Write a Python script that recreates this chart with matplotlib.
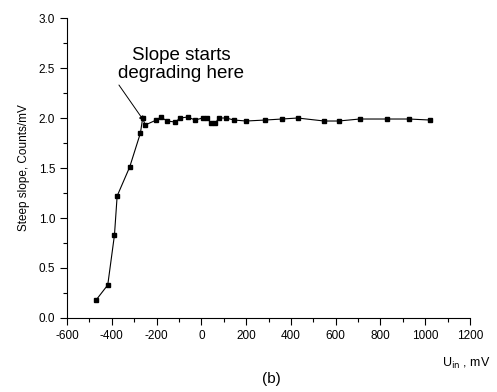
import matplotlib.pyplot as plt
from matplotlib.ticker import MultipleLocator

plt.rcParams["font.family"] = ["Liberation Sans", "DejaVu Sans"]
plt.rcParams["axes.unicode_minus"] = False

# input voltage, mV
u_in = [-470, -418, -388, -376, -320, -272, -262, -251, -201, -181, -153,
        -117, -94, -61, -28, 6, 25, 43, 63, 78, 110, 146, 200, 286, 360,
        430, 549, 613, 707, 829, 927, 1020]
# steep slope, counts/mV
slope = [0.18, 0.33, 0.83, 1.22, 1.51, 1.85, 2.00, 1.93, 1.98, 2.01, 1.97,
         1.96, 2.00, 2.01, 1.98, 2.00, 2.00, 1.95, 1.95, 2.00, 2.00, 1.98,
         1.97, 1.98, 1.99, 2.00, 1.97, 1.97, 1.99, 1.99, 1.99, 1.98]


def main():
    fig = plt.figure(figsize=(4.97, 3.92), dpi=100)
    ax = fig.add_axes([0.1348, 0.1888, 0.8109, 0.7652])

    ax.plot(u_in, slope, color="black", lw=0.8, marker="s", ms=3)

    ax.set_xlim(-600, 1200)
    ax.set_ylim(0, 3.0)
    ax.xaxis.set_major_locator(MultipleLocator(200))
    ax.xaxis.set_minor_locator(MultipleLocator(100))
    ax.yaxis.set_major_locator(MultipleLocator(0.5))
    ax.yaxis.set_minor_locator(MultipleLocator(0.25))
    ax.yaxis.set_major_formatter(plt.FormatStrFormatter("%.1f"))
    ax.tick_params(which="both", direction="out", labelsize=8.5, width=0.8)
    ax.tick_params(which="major", length=5)
    ax.tick_params(which="minor", length=3)
    ax.spines["top"].set_visible(False)
    ax.spines["right"].set_visible(False)

    ax.set_ylabel("Steep slope, Counts/mV", fontsize=8.5, labelpad=6)
    ax.text(1.05, -0.15, r"U$_{\rm in}$ , mV", transform=ax.transAxes,
            ha="right", va="center", fontsize=9)
    fig.text(0.547, 0.015, "(b)", ha="center", va="bottom", fontsize=11)

    ax.text(-90, 2.535, "Slope starts\ndegrading here", ha="center",
            va="center", fontsize=13.5, linespacing=1.05)
    ax.annotate("", xy=(-256, 1.97), xytext=(-368, 2.33),
                arrowprops=dict(arrowstyle="-|>", color="black", lw=0.7,
                                mutation_scale=7, shrinkA=0, shrinkB=0))

    fig.savefig("out.png", dpi=100)
    plt.close(fig)


if __name__ == "__main__":
    main()
